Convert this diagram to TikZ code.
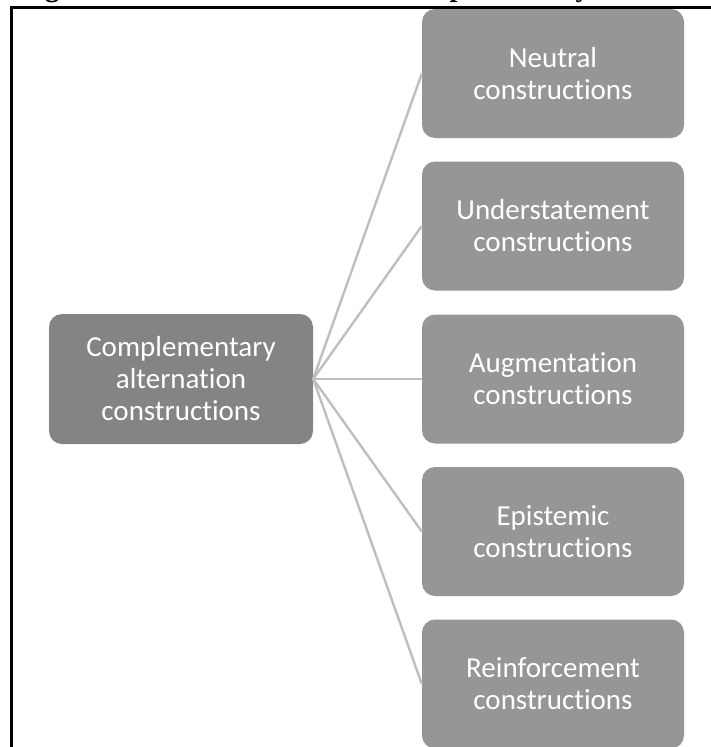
\documentclass[tikz,border=0pt]{standalone}
\usepackage{fontspec}
\setmainfont{Carlito}[Ligatures=NoCommon]
\newfontfamily\titlefont{Liberation Serif}
\definecolor{rootgray}{HTML}{848484}
\definecolor{leafgray}{HTML}{969696}
\definecolor{linegray}{HTML}{BFBFBF}
\begin{document}
\begin{tikzpicture}[x=1pt,y=-1pt,
  boxstyle/.style={rounded corners=13pt, minimum width=262pt, minimum height=129pt,
    inner sep=0pt, text=white, align=center, font=\fontsize{29}{32}\selectfont},
  rootbox/.style={boxstyle, fill=rootgray, minimum width=264pt, minimum height=130pt},
  leafbox/.style={boxstyle, fill=leafgray},
  conn/.style={draw=linegray, line width=2.4pt},
  frame/.style={draw=black, line width=3pt}]
\useasboundingbox (0,0) rectangle (710,747);
\begin{scope}
  \clip (0,0) rectangle (710,747);
  \node[anchor=base west, inner sep=0pt, font=\titlefont\bfseries\fontsize{28.7}{30}\selectfont] (title) at (19.5,-4)
    {Figure 4: New classification of complementary alternation constructions};
\end{scope}
\coordinate (fb) at (11.5,750);
\coordinate (fc) at (11.5,7.5);
\coordinate (fr) at (712,7.5);
\draw[frame] (fb) -- (fc) -- (fr);

\node[rootbox] (root) at (181,379) {Complementary\\alternation\\constructions};
\node[leafbox] (n1) at (553,73.5) {Neutral\\constructions};
\node[leafbox] (n2) at (553,226) {Understatement\\constructions};
\node[leafbox] (n3) at (553,379) {Augmentation\\constructions};
\node[leafbox] (n4) at (553,531.5) {Epistemic\\constructions};
\node[leafbox] (n5) at (553,684) {Reinforcement\\constructions};

\foreach \n in {n1,n2,n3,n4,n5}
  \draw[conn] (root.east) -- (\n.west);
\end{tikzpicture}
\end{document}
